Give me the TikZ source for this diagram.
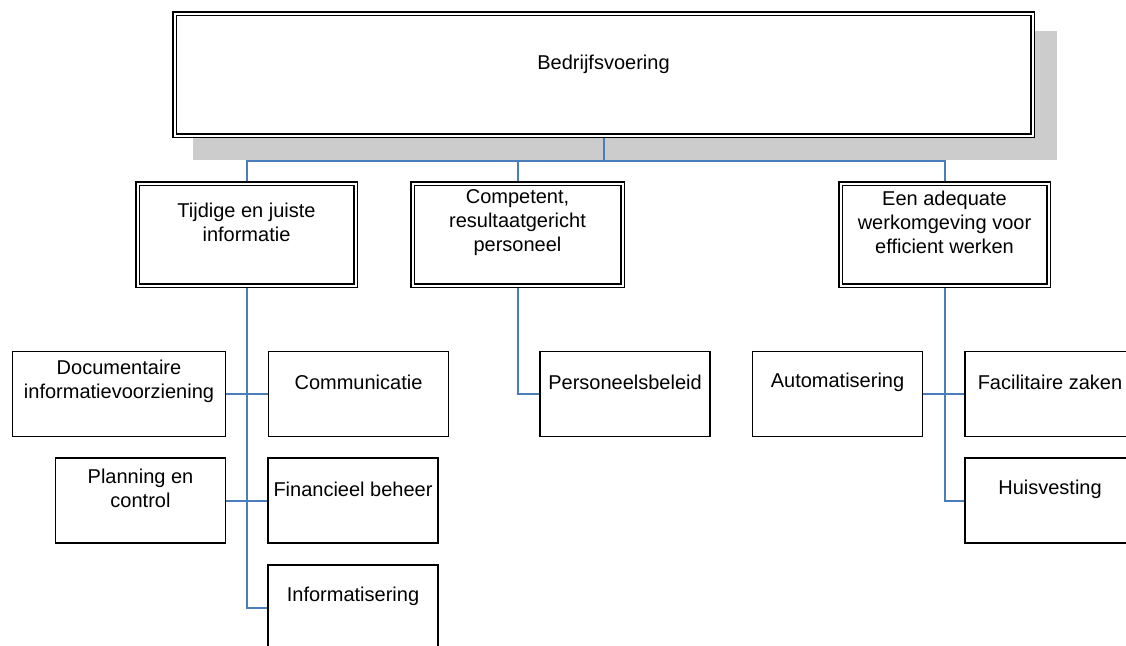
\documentclass[tikz,border=0pt]{standalone}
\usepackage{fontspec}
\setmainfont{Liberation Sans}
\usetikzlibrary{positioning,backgrounds}
\definecolor{linkblue}{HTML}{4A7EBB}
\definecolor{shadegray}{HTML}{CCCCCC}

\begin{document}
\begin{tikzpicture}[x=1pt, y=-1pt,
  goalbox/.style={rectangle, draw, double, double distance=2pt, line width=1.5pt,
    fill=white, minimum height=102pt},
  taskbox/.style={rectangle, draw, line width=1.6pt, fill=white,
    minimum height=85pt, minimum width=170pt},
  lbl/.style={align=center, font=\fontsize{20}{24}\selectfont},
  link/.style={draw=linkblue, line width=2pt},
]
  \useasboundingbox (0,0) rectangle (1126,645);
  \clip (0,0) rectangle (1126,645);

  % goals
  \node[goalbox, minimum width=858pt, minimum height=122pt] (top) at (603.5,74.5) {};
  \node[goalbox, minimum width=218pt] (tijdig) at (246.5,234.5) {};
  \node[goalbox, minimum width=210pt] (compet) at (517.5,234.5) {};
  \node[goalbox, minimum width=208pt] (omgev) at (944.5,234.5) {};

  % tasks
  \node[taskbox, minimum width=213pt] (docu) at (119,394) {};
  \node[taskbox, minimum width=180pt] (commu) at (358.5,394) {};
  \node[taskbox] (plan) at (140.5,500.5) {};
  \node[taskbox] (finan) at (353,500.5) {};
  \node[taskbox] (infor) at (353,607.5) {};
  \node[taskbox] (perso) at (625,394) {};
  \node[taskbox] (autom) at (837.5,394) {};
  \node[taskbox] (facil) at (1050,394) {};
  \node[taskbox] (huisv) at (1050,500.5) {};

  \node[lbl] (topT) at ([yshift=-52pt]top.north) {Bedrijfsvoering};
  \node[lbl] (tijdigT) at ([yshift=-40pt]tijdig.north) {Tijdige en juiste\\informatie};
  \node[lbl] (competT) at ([yshift=-40pt]compet.north) {Competent,\\resultaatgericht\\personeel};
  \node[lbl] (omgevT) at ([yshift=-40pt]omgev.north) {Een adequate\\werkomgeving voor\\efficient werken};
  \node[lbl] (docuT) at ([yshift=-31pt]docu.north) {Documentaire\\informatievoorziening};
  \node[lbl] (commuT) at ([yshift=-32pt]commu.north) {Communicatie};
  \node[lbl] (planT) at ([yshift=-31pt]plan.north) {Planning en\\control};
  \node[lbl] (finanT) at ([yshift=-32pt]finan.north) {Financieel beheer};
  \node[lbl] (inforT) at ([yshift=-32pt]infor.north) {Informatisering};
  \node[lbl] (persoT) at ([yshift=-32pt]perso.north) {Personeelsbeleid};
  \node[lbl] (automT) at ([yshift=-32pt]autom.north) {Automatisering};
  \node[lbl] (facilT) at ([yshift=-32pt]facil.north) {Facilitaire zaken};
  \node[lbl] (huisvT) at ([yshift=-32pt]huisv.north) {Huisvesting};

  \begin{scope}[on background layer]
    \fill[shadegray] (193,31) rectangle (1057,160);
    \coordinate (bus) at ([yshift=-24.5pt]top.south);
    \draw[link] (top.south) -- (bus);
    \draw[link] (bus) -| (tijdig.north);
    \draw[link] (bus) -| (compet.north);
    \draw[link] (bus) -| (omgev.north);
    \draw[link] (tijdig.south) |- (infor.west);
    \draw[link] (docu.east) -- (commu.west);
    \draw[link] (plan.east) -- (finan.west);
    \draw[link] (compet.south) |- (perso.west);
    \draw[link] (omgev.south) |- (huisv.west);
    \draw[link] (autom.east) -- (facil.west);
  \end{scope}
\end{tikzpicture}
\end{document}
